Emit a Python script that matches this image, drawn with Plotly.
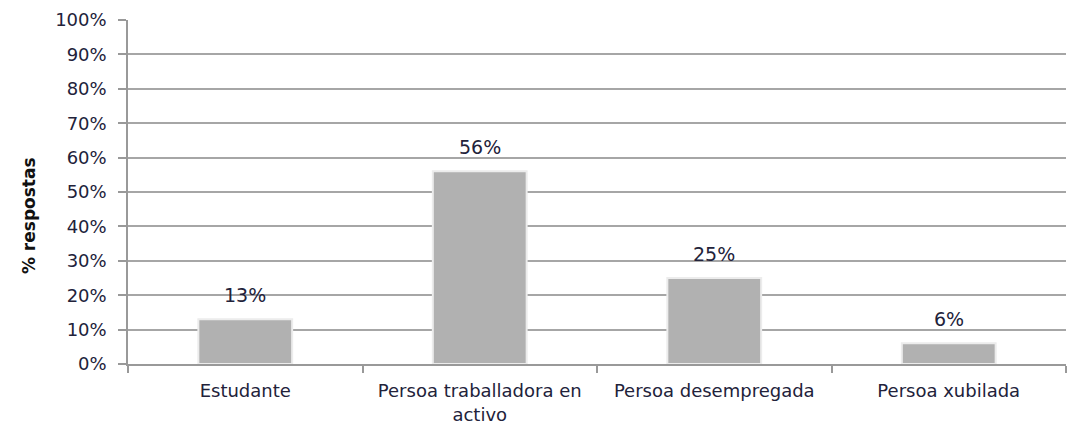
import plotly.graph_objects as go

categories = ["Estudante", "Persoa traballadora en<br>activo", "Persoa desempregada", "Persoa xubilada"]
values = [13, 56, 25, 6]
y_ticks = list(range(0, 101, 10))
y_tick_labels = [f"{v}%" for v in y_ticks]

W, H = 1075, 425
L, R, T, B = 128, 9, 20, 61
plot_w = W - L - R

text_color = "#22223a"
grid_color = "#a6a6a6"
font_family = "DejaVu Sans, Verdana, sans-serif"

fig = go.Figure()
fig.add_trace(go.Bar(
    x=categories,
    y=values,
    marker=dict(color="#b1b1b1", line=dict(color="#ececec", width=2)),
    hoverinfo="skip",
))

# value labels above each bar
for cat, val in zip(categories, values):
    fig.add_annotation(
        x=cat, y=val, text=f"{val}%", showarrow=False,
        yanchor="bottom", yshift=11,
        font=dict(family=font_family, size=19, color=text_color),
    )

# rotated y-axis title
fig.add_annotation(
    x=(17 - L) / plot_w, y=0.43, xref="paper", yref="paper",
    text="<b>% respostas</b>", textangle=-90, showarrow=False,
    font=dict(family=font_family, size=17, color="#111111"),
)

fig.update_layout(
    width=W, height=H,
    margin=dict(l=L, r=R, t=T, b=B),
    paper_bgcolor="white", plot_bgcolor="white",
    bargap=0.6, showlegend=False,
    font=dict(family=font_family, size=18, color=text_color),
)
fig.update_yaxes(
    range=[0, 100], tickvals=y_ticks, ticktext=y_tick_labels,
    showgrid=True, gridcolor=grid_color, gridwidth=1.5,
    showline=True, linecolor="#999999", linewidth=1.5,
    ticks="outside", ticklen=8, tickcolor="#999999", tickwidth=1.5,
    ticklabelstandoff=8, automargin=False,
    tickfont=dict(family=font_family, size=18, color=text_color),
    zeroline=False, fixedrange=True,
)
fig.update_xaxes(
    type="category", tickson="boundaries",
    ticks="outside", ticklen=7, tickcolor="#999999", tickwidth=1.5,
    showline=True, linecolor="#999999", linewidth=1.5,
    ticklabelstandoff=10, automargin=False,
    tickfont=dict(family=font_family, size=18, color=text_color),
    fixedrange=True,
)

fig.write_html("out.html")
